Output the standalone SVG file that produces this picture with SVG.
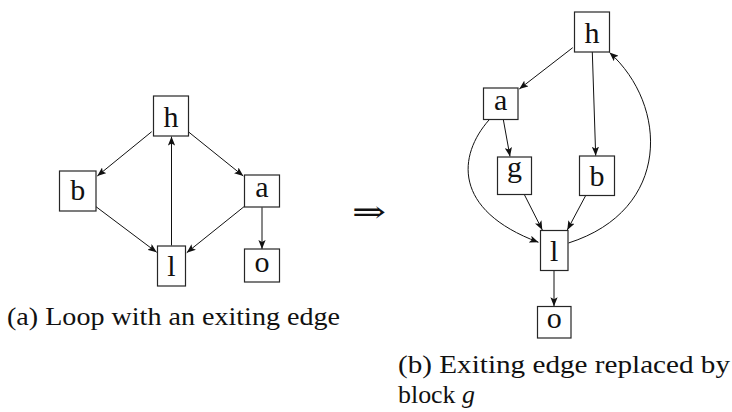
<svg xmlns="http://www.w3.org/2000/svg" width="732" height="412" viewBox="0 0 732 412">
  <style>
    .box { fill: #ffffff; stroke: #262626; stroke-width: 1.2; }
    .lbl { font-family: "Liberation Serif", "Times New Roman", serif; font-size: 30px; fill: #111; text-anchor: middle; }
    .edge { fill: none; stroke: #111; stroke-width: 1; marker-end: url(#tip); }
    .cap { font-family: "Liberation Serif", "Times New Roman", serif; font-size: 25px; fill: #111; }
  </style>
  <defs>
    <marker id="tip" viewBox="0 0 10 8" refX="10" refY="4" markerWidth="9" markerHeight="7.2" markerUnits="userSpaceOnUse" orient="auto">
      <path d="M0,0 L10,4 L0,8 L2.2,4 z" fill="#111"/>
    </marker>
  </defs>
  <rect width="732" height="412" fill="#ffffff"/>

  <!-- left graph: loop with an exiting edge -->
  <g id="left-edges">
    <path class="edge" d="M151.7,131.7 L97.3,176"/>
    <path class="edge" d="M189,132.3 L243.3,176"/>
    <path class="edge" d="M96,206.7 L156.7,252.3"/>
    <path class="edge" d="M244,206.7 L186.7,252.7"/>
    <path class="edge" d="M171.5,245.5 L171.5,136.5"/>
    <path class="edge" d="M262,207.3 L262,249"/>
  </g>
  <g id="L-h"><rect class="box" x="153.5" y="96" width="35" height="40"/><text class="lbl" x="171" y="127">h</text></g>
  <g id="L-b"><rect class="box" x="59.5" y="171" width="36.5" height="40"/><text class="lbl" x="77.7" y="200">b</text></g>
  <g id="L-a"><rect class="box" x="244.5" y="175" width="35" height="32"/><text class="lbl" x="262" y="197">a</text></g>
  <g id="L-l"><rect class="box" x="157.5" y="246" width="28" height="40"/><text class="lbl" x="171.5" y="275.5">l</text></g>
  <g id="L-o"><rect class="box" x="244.5" y="249" width="35" height="33"/><text class="lbl" x="262" y="272">o</text></g>

  <!-- transformation arrow -->
  <text x="369" y="222" font-family="DejaVu Serif, serif" font-size="30" text-anchor="middle" textLength="34" lengthAdjust="spacingAndGlyphs" fill="#111">⇒</text>

  <!-- right graph: exiting edge replaced by block g -->
  <g id="right-edges">
    <path class="edge" d="M572.7,47.7 L519.3,89"/>
    <path class="edge" d="M592.3,52 L595.7,155.7"/>
    <path class="edge" d="M503.3,119.5 L510,156.5"/>
    <path class="edge" d="M489,120 C458,155 452,210 538.5,242.3"/>
    <path class="edge" d="M568.5,243 C672,210 668,105 609.5,52.5"/>
    <path class="edge" d="M524.3,194.5 L542.3,230"/>
    <path class="edge" d="M585.7,195.5 L567.3,230"/>
    <path class="edge" d="M554,270.5 L554,306.3"/>
  </g>
  <g id="R-h"><rect class="box" x="574.5" y="12" width="35" height="40"/><text class="lbl" x="592" y="42.5">h</text></g>
  <g id="R-a"><rect class="box" x="483.5" y="88" width="34.5" height="31.5"/><text class="lbl" x="500.7" y="110">a</text></g>
  <g id="R-g"><rect class="box" x="497.5" y="157" width="34" height="37.5"/><text class="lbl" x="514.5" y="177">g</text></g>
  <g id="R-b"><rect class="box" x="579.5" y="156" width="35" height="39.5"/><text class="lbl" x="597" y="186">b</text></g>
  <g id="R-l"><rect class="box" x="540.5" y="230.5" width="27.5" height="40"/><text class="lbl" x="554.2" y="261">l</text></g>
  <g id="R-o"><rect class="box" x="537.5" y="306.5" width="33.5" height="31.5"/><text class="lbl" x="554.2" y="328">o</text></g>

  <!-- captions -->
  <text class="cap" x="7" y="324.5" textLength="333" lengthAdjust="spacingAndGlyphs">(a) Loop with an exiting edge</text>
  <text class="cap" x="398" y="373" textLength="332" lengthAdjust="spacingAndGlyphs">(b) Exiting edge replaced by</text>
  <text class="cap" x="398" y="403" textLength="77" lengthAdjust="spacingAndGlyphs">block <tspan font-style="italic">g</tspan></text>
</svg>
